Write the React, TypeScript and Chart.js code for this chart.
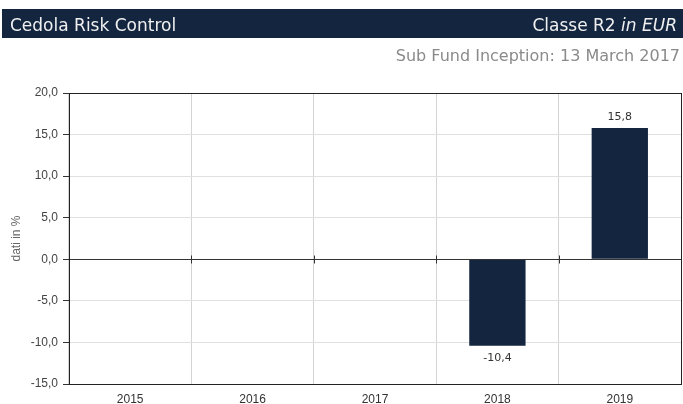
import React, { useEffect, useRef } from "react";
import { Chart, registerables } from "chart.js";

Chart.register(...registerables);

const categories = ["2015", "2016", "2017", "2018", "2019"];
const values: (number | null)[] = [null, null, null, -10.4, 15.8];
const yTicks = [-15, -10, -5, 0, 5, 10, 15, 20];
const titleLeft = "Cedola Risk Control";
const titleRightMain = "Classe R2 ";
const titleRightItalic = "in EUR";
const subtitle = "Sub Fund Inception: 13 March 2017";
const yAxisTitle = "dati in %";

const NAVY = "#13253f";

const fmt = (v: number) => v.toFixed(1).replace(".", ",");

const framePlugin = {
  id: "frame",
  afterDatasetsDraw(chart: any) {
    const { ctx, chartArea } = chart;
    const y = chart.scales.y;
    const zeroY = Math.round(y.getPixelForValue(0)) + 0.5;
    ctx.save();
    ctx.strokeStyle = "#333";
    ctx.lineWidth = 1;
    ctx.beginPath();
    ctx.moveTo(chartArea.left - 6, zeroY);
    ctx.lineTo(chartArea.right, zeroY);
    ctx.stroke();
    const n = categories.length;
    const step = (chartArea.right - chartArea.left) / n;
    for (let i = 1; i < n; i++) {
      const bx = Math.round(chartArea.left + step * i) + 0.5;
      ctx.beginPath();
      ctx.moveTo(bx, zeroY - 4);
      ctx.lineTo(bx, zeroY + 4);
      ctx.stroke();
    }
    ctx.strokeStyle = "#222";
    ctx.strokeRect(
      Math.round(chartArea.left) + 0.5,
      Math.round(chartArea.top) + 0.5,
      Math.round(chartArea.right - chartArea.left),
      Math.round(chartArea.bottom - chartArea.top)
    );
    const meta = chart.getDatasetMeta(0);
    ctx.fillStyle = "#333";
    ctx.font = "11px 'DejaVu Sans', Verdana, sans-serif";
    ctx.textAlign = "center";
    meta.data.forEach((bar: any, i: number) => {
      const v = values[i];
      if (v === null || v === undefined) return;
      if (v >= 0) {
        ctx.textBaseline = "bottom";
        ctx.fillText(fmt(v), bar.x, bar.y - 5);
      } else {
        ctx.textBaseline = "top";
        ctx.fillText(fmt(v), bar.x, bar.y + 7);
      }
    });
    ctx.restore();
  },
};

function BarChart() {
  const ref = useRef<HTMLCanvasElement | null>(null);
  useEffect(() => {
    if (!ref.current) return;
    const chart = new Chart(ref.current, {
      type: "bar",
      data: {
        labels: categories,
        datasets: [
          {
            data: values as any,
            backgroundColor: NAVY,
            borderWidth: 0,
            categoryPercentage: 1,
            barPercentage: 0.46,
          },
        ],
      },
      options: {
        animation: false,
        responsive: false,
        maintainAspectRatio: false,
        layout: { padding: { left: 0, right: 2, top: 93, bottom: 0 } },
        plugins: { legend: { display: false }, tooltip: { enabled: false } },
        scales: {
          x: {
            grid: {
              offset: true,
              color: "#d4d4d4",
              drawTicks: false,
            },
            border: { display: false },
            ticks: {
              color: "#333",
              font: { family: "'Liberation Sans', Arial, sans-serif", size: 12 },
              padding: 8,
            },
            afterFit: (s: any) => {
              s.height = 20;
            },
          },
          y: {
            min: -15,
            max: 20,
            afterBuildTicks: (s: any) => {
              s.ticks = yTicks.map((v) => ({ value: v }));
            },
            grid: {
              color: (c: any) => (c.tick && c.tick.value === 0 ? "rgba(0,0,0,0)" : "#e0e0e0"),
              tickColor: "#333",
              tickLength: 6,
            },
            border: { display: false },
            ticks: {
              color: "#444",
              font: { family: "'Liberation Sans', Arial, sans-serif", size: 12 },
              padding: 5,
              callback: (v: any) => fmt(Number(v)),
            },
            title: {
              display: true,
              text: yAxisTitle,
              color: "#666",
              font: { family: "'Liberation Sans', Arial, sans-serif", size: 12 },
              padding: { top: 9, bottom: 0 },
            },
            afterFit: (s: any) => {
              s.width = 69;
            },
          },
        },
      },
      plugins: [framePlugin],
    });
    return () => chart.destroy();
  }, []);
  return <canvas ref={ref} width={683} height={404} style={{ position: "absolute", left: 0, top: 0 }} />;
}

export default function App() {
  return (
    <div
      style={{
        position: "absolute",
        left: 0,
        top: 0,
        width: 683,
        height: 404,
        background: "#fff",
        overflow: "hidden",
      }}
    >
      <BarChart />
      <div
        style={{
          position: "absolute",
          left: 2,
          top: 9,
          width: 681,
          height: 29,
          background: NAVY,
          color: "#f0f0f0",
          fontFamily: "'DejaVu Sans', Verdana, sans-serif",
          fontSize: 17,
          lineHeight: "29px",
        }}
      >
        <span style={{ position: "absolute", left: 8, top: 2, whiteSpace: "nowrap" }}>{titleLeft}</span>
        <span style={{ position: "absolute", right: 6, top: 2, whiteSpace: "nowrap" }}>
          {titleRightMain}
          <i>{titleRightItalic}</i>
        </span>
      </div>
      <div
        style={{
          position: "absolute",
          right: 3,
          top: 44,
          color: "#8a8a8a",
          fontFamily: "'DejaVu Sans', Verdana, sans-serif",
          fontSize: 16,
          lineHeight: "24px",
          whiteSpace: "nowrap",
        }}
      >
        {subtitle}
      </div>
    </div>
  );
}
